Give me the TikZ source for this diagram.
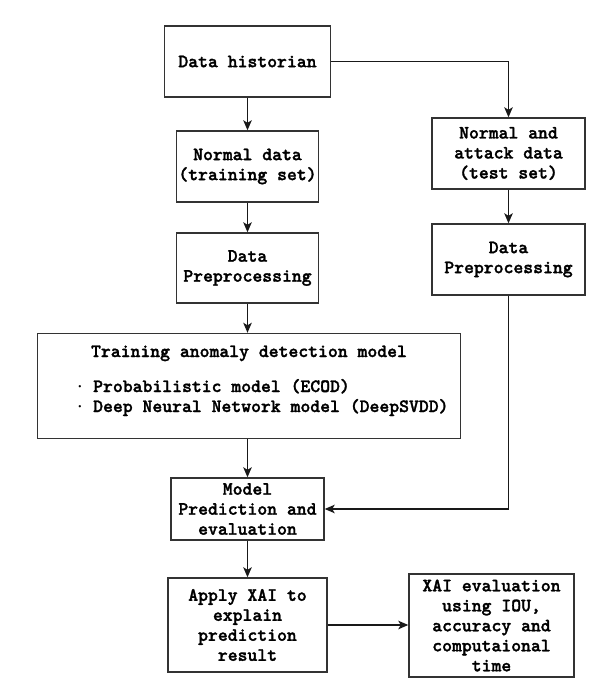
\documentclass[tikz,border=0pt]{standalone}
\usepackage{fontspec}
\newfontfamily\courb{lmmonolt10-bold.otf}[FakeBold=1.6]
\usetikzlibrary{arrows.meta}
\begin{document}
\begin{tikzpicture}[x=1pt,y=-1pt,
  box/.style={draw=black!80, line width=1.4pt, fill=white, inner sep=0pt, align=center,
     font=\courb\fontsize{18.8}{20}\selectfont},
  txt/.style={inner sep=0pt, align=left, font=\courb\fontsize{18.8}{20}\selectfont},
  arr/.style={line width=1.4pt, draw=black!90, -{Stealth[length=10pt,width=8.5pt,inset=2.5pt]}}]
\useasboundingbox (0,0) rectangle (600,686);
\node[box, minimum width=166pt, minimum height=71pt] (hist) at (247.5,61.5) {Data historian};
\node[box, minimum width=142pt, minimum height=71pt] (normal) at (247.5,166.5) {Normal data\\(training set)};
\node[box, minimum width=142pt, minimum height=70pt] (prep1) at (247.5,268) {Data\\Preprocessing};
\node[box, minimum width=423pt, minimum height=105pt] (train) at (249,386) {};
\node[txt, anchor=base] (traintitle) at (249,357) {Training anomaly detection model};
\node[txt, anchor=base west] (item1) at (93,392) {Probabilistic model (ECOD)};
\node[txt, anchor=base west] (item2) at (93,412) {Deep Neural Network model (DeepSVDD)};
\node[txt, anchor=center, font=\fontsize{8}{8}\selectfont] (bul1) at (80,387) {•};
\node[txt, anchor=center, font=\fontsize{8}{8}\selectfont] (bul2) at (80,407) {•};
\node[box, minimum width=153pt, minimum height=62pt] (pred) at (247.5,509) {Model\\Prediction and\\evaluation};
\node[box, minimum width=159pt, minimum height=94pt] (xai) at (247.5,625) {Apply XAI to\\explain\\prediction\\result};
\node[box, minimum width=165pt, minimum height=103pt] (eval) at (491.5,625.5) {XAI evaluation\\using IOU,\\accuracy and\\computaional\\time};
\node[box, minimum width=153pt, minimum height=71pt] (attack) at (508.5,153.5) {Normal and\\attack data\\(test set)};
\node[box, minimum width=153pt, minimum height=71pt] (prep2) at (508.5,259.5) {Data\\Preprocessing};
\draw[arr] (hist.south) -- (normal.north);
\draw[arr] (hist.east) -| (attack.north);
\draw[arr] (normal.south) -- (prep1.north);
\draw[arr] (prep1.south) -- (prep1.south |- train.north);
\draw[arr] (attack.south) -- (prep2.north);
\draw[arr] (prep2.south) |- (pred.east);
\draw[arr] (train.south -| pred.north) -- (pred.north);
\draw[arr] (pred.south) -- (xai.north);
\draw[arr] (xai.east) -- (eval.west |- xai.east);
\end{tikzpicture}
\end{document}
